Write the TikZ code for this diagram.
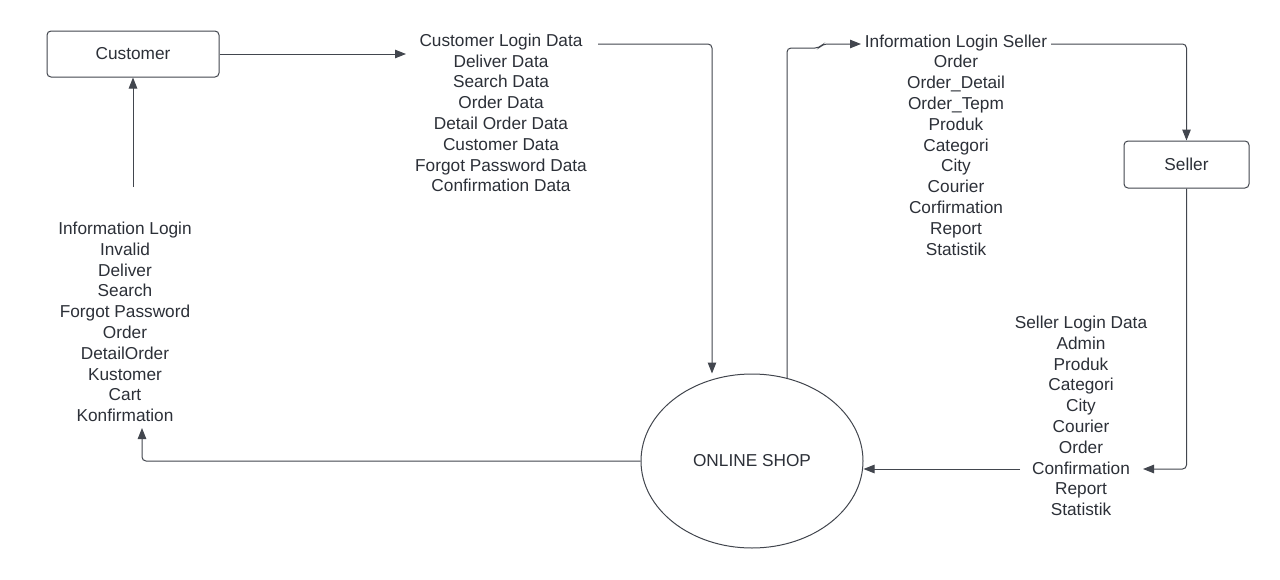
\documentclass[tikz,border=0pt]{standalone}
\usepackage{fontspec}
\setmainfont{Liberation Sans}
\usetikzlibrary{arrows.meta,shapes.geometric}
\definecolor{linec}{RGB}{66,70,78}
\definecolor{textc}{RGB}{44,48,56}
\tikzset{
  conn/.style={draw=linec, line width=1pt, rounded corners=4pt},
  arr/.style={conn, -{Triangle[length=11pt,width=8.5pt]}},
  entity/.style={draw=linec, line width=1pt, rounded corners=4pt, text=textc, font=\fontsize{17.25}{20.8}\selectfont, inner sep=0pt},
  proc/.style={ellipse, draw=linec, line width=1pt, text=textc, font=\fontsize{17.25}{20.8}\selectfont, inner sep=0pt},
  flowlist/.style={align=center, text=textc, font=\fontsize{17.25}{20.8}\selectfont, inner sep=0pt}
}
\begin{document}
\begin{tikzpicture}[x=1pt,y=-1pt]
\useasboundingbox[fill=white] (0,0) rectangle (1280,579);

% entities and process
\node[entity, minimum width=172pt, minimum height=46pt] (cust) at (133,54) {Customer};
\node[entity, minimum width=125pt, minimum height=47pt] (seller) at (1186.5,164.5) {Seller};
\node[proc, minimum width=222pt, minimum height=174pt] (shop) at (752,461) {ONLINE SHOP};

% flow label lists
\node[flowlist] (clist) at (501,113) {Customer Login Data\\Deliver Data\\Search Data\\Order Data\\Detail Order Data\\Customer Data\\Forgot Password Data\\Confirmation Data};
\node[flowlist] (slist) at (956,145) {Information Login Seller\\Order\\Order\_Detail\\Order\_Tepm\\Produk\\Categori\\City\\Courier\\Corfirmation\\Report\\Statistik};
\node[flowlist] (sllist) at (1081,416) {Seller Login Data\\Admin\\Produk\\Categori\\City\\Courier\\Order\\Confirmation\\Report\\Statistik};
\node[flowlist] (llist) at (125,322) {Information Login\\Invalid\\Deliver\\Search\\Forgot Password\\Order\\DetailOrder\\Kustomer\\Cart\\Konfirmation};

% connector endpoints near labels
\coordinate (cin) at (406,54);
\coordinate (cout) at (598,44);
\coordinate (shout) at (787,378.5);
\coordinate (sin) at (861,44);
\coordinate (sout) at (1051,44);
\coordinate (slin) at (1143,469);
\coordinate (slout) at (1020,469);
\coordinate (lin) at (142,428);
\coordinate (lout) at (133,187);

% bends
\coordinate (b1) at (712,44);
\coordinate (b2) at (787,48);
\coordinate (b3) at (819,48);
\coordinate (b4) at (823,44);
\coordinate (b5) at (1186.5,44);
\coordinate (b6) at (1186.5,469);
\coordinate (b7) at (142,461);

% connectors
\draw[arr] (cust.east) -- (cin);
\draw[arr] (cout) -- (b1) -- (b1 |- shop.north);
\draw[arr] (shout) -- (b2) -- (b3) -- (b4) -- (sin);
\draw[arr] (sout) -- (b5) -- (seller.north);
\draw[arr] (seller.south) -- (b6) -- (slin);
\draw[arr] (slout) -- (shop.east |- slout);
\draw[arr] (shop.west) -- (b7) -- (lin);
\draw[arr] (lout) -- (cust.south);
\end{tikzpicture}
\end{document}
